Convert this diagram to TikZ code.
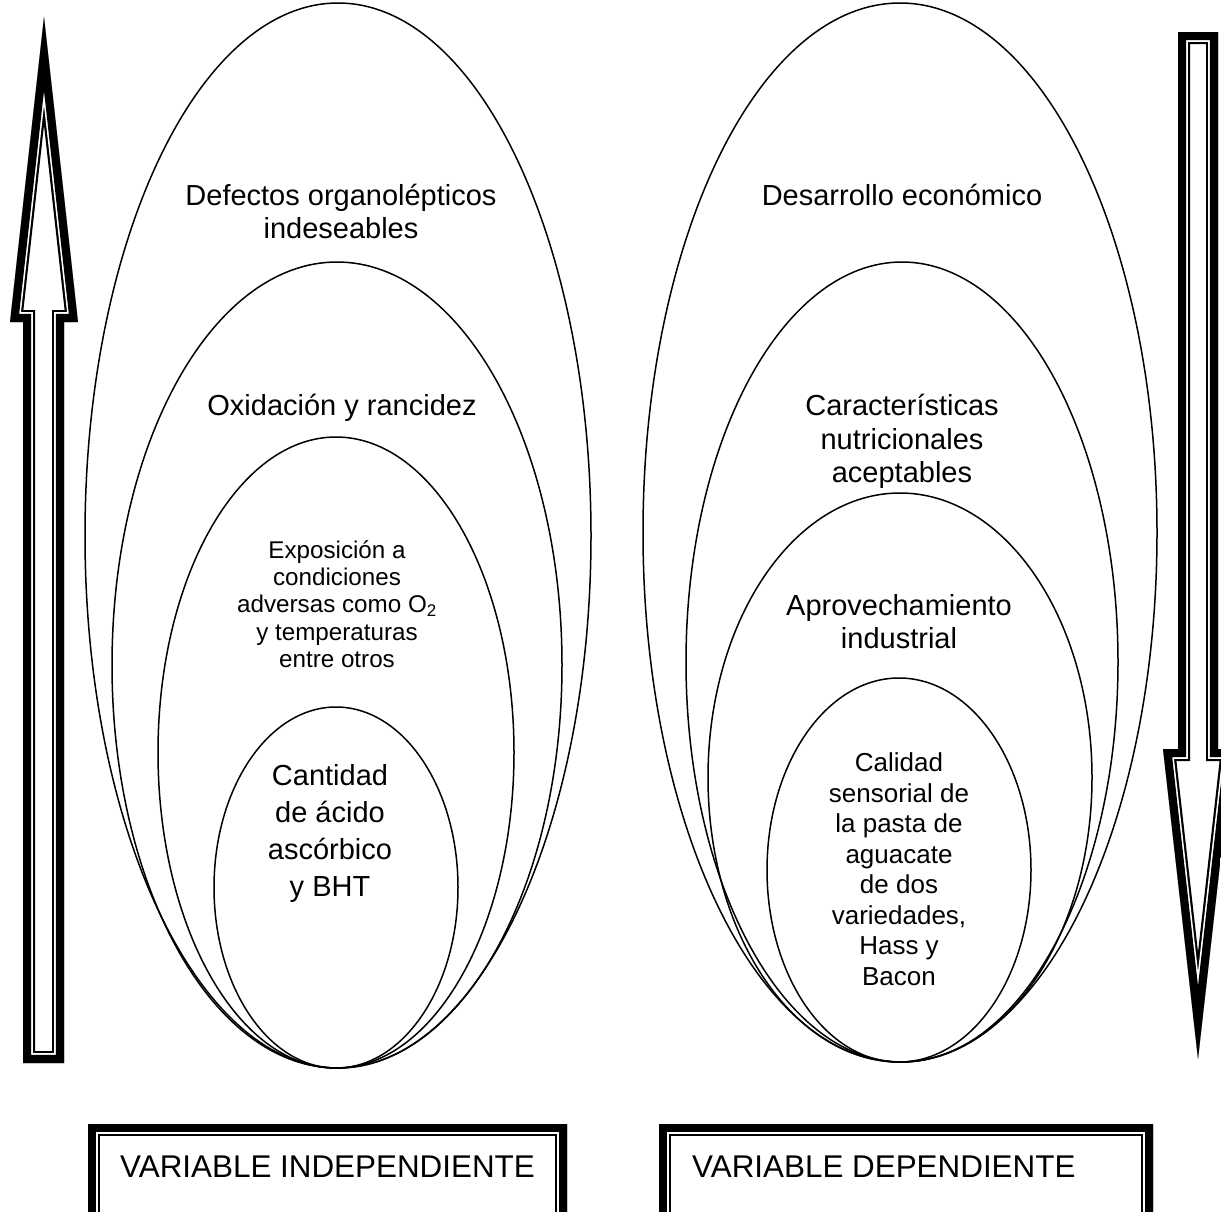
\documentclass[tikz,border=0pt]{standalone}
\usepackage{fontspec}
\setmainfont{Liberation Sans}
\usetikzlibrary{shapes.geometric}

% thick-thin compound outline drawn on the inner side of a closed path
\newcommand{\compoundband}[1]{%
  \begin{scope}
    \clip #1;
    \draw[black, line width=24pt, line join=miter] #1;
    \draw[white, line width=19.6pt, line join=miter] #1;
    \draw[black, line width=16.4pt, line join=miter] #1;
  \end{scope}}

\tikzset{
  oval/.style={draw, ellipse, inner sep=0pt, line width=1.5pt},
  lbl/.style={align=center, inner sep=0pt, font=\fontsize{29}{33.4}\selectfont},
  lblsmall/.style={align=center, inner sep=0pt, font=\fontsize{24.2}{27.3}\selectfont},
  lblwide/.style={align=center, inner sep=0pt, font=\fontsize{29}{37}\selectfont},
  lblmid/.style={align=center, inner sep=0pt, font=\fontsize{26}{30.5}\selectfont},
  boxtext/.style={anchor=base west, inner sep=0pt, font=\fontsize{31.4}{36}\selectfont}
}

\begin{document}
\begin{tikzpicture}[x=1pt, y=-1pt]
\clip (0,0) rectangle (1221,1211);
\fill[white] (0,0) rectangle (1221,1211);

% upward arrow on the left
\compoundband{(44,17) -- (78,322) -- (64,322) -- (64,1063) -- (23,1063) -- (23,322) -- (10,322) -- cycle}

% downward arrow on the right
\compoundband{(1178,32) -- (1218,32) -- (1218,749) -- (1233,749) -- (1198,1059) -- (1163,749) -- (1178,749) -- cycle}

% nested ovals, independent side
\node[oval, minimum width=506pt, minimum height=1065pt] (L1) at (338,535.5) {};
\node[oval, minimum width=450pt, minimum height=806pt]  (L2) at (337,665) {};
\node[oval, minimum width=356pt, minimum height=631pt]  (L3) at (336,752.5) {};
\node[oval, minimum width=244pt, minimum height=361pt]  (L4) at (336,887.5) {};

% nested ovals, dependent side
\node[oval, minimum width=514pt, minimum height=1059pt] (R1) at (900,532.5) {};
\node[oval, minimum width=432pt, minimum height=800pt]  (R2) at (902,662) {};
\node[oval, minimum width=384pt, minimum height=569pt]  (R3) at (900,777.5) {};
\node[oval, minimum width=264pt, minimum height=384pt]  (R4) at (899,870) {};

% labels, independent side
\node[lbl] (tDef) at (341,211.5) {Defectos organolépticos\\indeseables};
\node[lbl] (tOxi) at (342,407.5) {Oxidación y rancidez};
\node[lblsmall] (tExp) at (337,604) {Exposición a\\condiciones\\adversas como O\textsubscript{2}\\y temperaturas\\entre otros};
\node[lblwide] (tCan) at (330,833) {Cantidad\\de ácido\\ascórbico\\y BHT};

% labels, dependent side
\node[lbl] (tDes) at (902,195) {Desarrollo económico};
\node[lbl] (tCar) at (902,441.5) {Características\\nutricionales\\aceptables};
\node[lbl] (tApr) at (899,621.5) {Aprovechamiento\\industrial};
\node[lblmid] (tCal) at (899,869) {Calidad\\sensorial de\\la pasta de\\aguacate\\de dos\\variedades,\\Hass y\\Bacon};

% framed captions at the bottom
\compoundband{(88,1124) -- (567,1124) -- (567,1240) -- (88,1240) -- cycle}
\compoundband{(659,1124) -- (1153,1124) -- (1153,1240) -- (659,1240) -- cycle}
\node[boxtext] (vInd) at (120,1177) {VARIABLE INDEPENDIENTE};
\node[boxtext] (vDep) at (692,1177) {VARIABLE DEPENDIENTE};
\end{tikzpicture}
\end{document}
